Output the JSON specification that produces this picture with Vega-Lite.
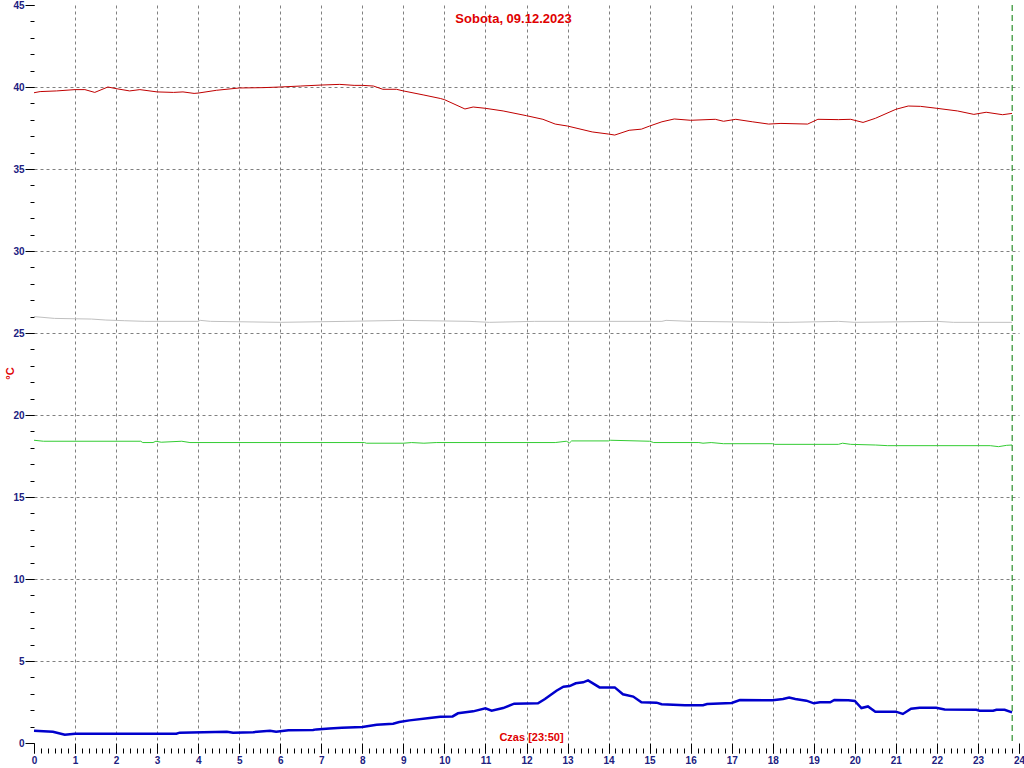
{
  "$schema": "https://vega.github.io/schema/vega-lite/v6.json",
  "width": 985,
  "height": 738,
  "autosize": {"type": "none"},
  "padding": {"left": 34, "top": 5, "right": 5, "bottom": 25},
  "background": "white",
  "config": {"view": {"stroke": null}, "font": "Liberation Sans"},
  "title": {"text": "Sobota, 09.12.2023", "color": "#e00000", "font": "Liberation Sans", "fontSize": 13, "fontWeight": "bold", "anchor": "middle", "frame": "group", "dx": -13, "dy": 18, "offset": -8, "baseline": "top"},
  "datasets": {
    "lines": [
      {"t":0,"v":39.65,"s":"A"},{"t":0.15,"v":39.72,"s":"A"},{"t":0.55,"v":39.76,"s":"A"},{"t":1,"v":39.84,"s":"A"},{"t":1.24,"v":39.84,"s":"A"},{"t":1.48,"v":39.67,"s":"A"},{"t":1.8,"v":40.0,"s":"A"},{"t":2,"v":39.9,"s":"A"},{"t":2.33,"v":39.76,"s":"A"},{"t":2.58,"v":39.84,"s":"A"},{"t":3,"v":39.7,"s":"A"},{"t":3.4,"v":39.67,"s":"A"},{"t":3.63,"v":39.7,"s":"A"},{"t":3.9,"v":39.61,"s":"A"},{"t":4,"v":39.63,"s":"A"},{"t":4.45,"v":39.8,"s":"A"},{"t":5,"v":39.94,"s":"A"},{"t":5.58,"v":39.96,"s":"A"},{"t":6,"v":40.0,"s":"A"},{"t":6.5,"v":40.06,"s":"A"},{"t":7,"v":40.12,"s":"A"},{"t":7.45,"v":40.16,"s":"A"},{"t":7.8,"v":40.1,"s":"A"},{"t":8,"v":40.1,"s":"A"},{"t":8.27,"v":40.06,"s":"A"},{"t":8.5,"v":39.86,"s":"A"},{"t":8.83,"v":39.86,"s":"A"},{"t":9,"v":39.76,"s":"A"},{"t":9.5,"v":39.51,"s":"A"},{"t":9.9,"v":39.3,"s":"A"},{"t":10,"v":39.23,"s":"A"},{"t":10.5,"v":38.66,"s":"A"},{"t":10.7,"v":38.78,"s":"A"},{"t":11,"v":38.7,"s":"A"},{"t":11.43,"v":38.54,"s":"A"},{"t":12,"v":38.25,"s":"A"},{"t":12.4,"v":38.03,"s":"A"},{"t":12.7,"v":37.74,"s":"A"},{"t":13,"v":37.62,"s":"A"},{"t":13.6,"v":37.26,"s":"A"},{"t":14,"v":37.13,"s":"A"},{"t":14.15,"v":37.07,"s":"A"},{"t":14.5,"v":37.36,"s":"A"},{"t":14.8,"v":37.43,"s":"A"},{"t":15,"v":37.62,"s":"A"},{"t":15.3,"v":37.88,"s":"A"},{"t":15.6,"v":38.05,"s":"A"},{"t":16,"v":37.97,"s":"A"},{"t":16.6,"v":38.03,"s":"A"},{"t":16.8,"v":37.91,"s":"A"},{"t":17.1,"v":38.03,"s":"A"},{"t":17.5,"v":37.88,"s":"A"},{"t":17.9,"v":37.74,"s":"A"},{"t":18.2,"v":37.78,"s":"A"},{"t":18.85,"v":37.74,"s":"A"},{"t":19.1,"v":38.03,"s":"A"},{"t":19.6,"v":38.01,"s":"A"},{"t":19.9,"v":38.03,"s":"A"},{"t":20.2,"v":37.84,"s":"A"},{"t":20.5,"v":38.09,"s":"A"},{"t":21,"v":38.64,"s":"A"},{"t":21.3,"v":38.84,"s":"A"},{"t":21.6,"v":38.82,"s":"A"},{"t":22,"v":38.7,"s":"A"},{"t":22.5,"v":38.54,"s":"A"},{"t":22.9,"v":38.33,"s":"A"},{"t":23.2,"v":38.46,"s":"A"},{"t":23.6,"v":38.31,"s":"A"},{"t":23.83,"v":38.39,"s":"A"},
      {"t":0,"v":26.0,"s":"B"},{"t":0.5,"v":25.89,"s":"B"},{"t":1.4,"v":25.85,"s":"B"},{"t":1.75,"v":25.79,"s":"B"},{"t":2.2,"v":25.75,"s":"B"},{"t":2.7,"v":25.71,"s":"B"},{"t":4,"v":25.71,"s":"B"},{"t":4.05,"v":25.77,"s":"B"},{"t":4.3,"v":25.71,"s":"B"},{"t":6,"v":25.65,"s":"B"},{"t":7.6,"v":25.71,"s":"B"},{"t":9,"v":25.77,"s":"B"},{"t":10.6,"v":25.71,"s":"B"},{"t":11.1,"v":25.65,"s":"B"},{"t":12.2,"v":25.71,"s":"B"},{"t":15.3,"v":25.71,"s":"B"},{"t":15.4,"v":25.77,"s":"B"},{"t":16,"v":25.71,"s":"B"},{"t":17.9,"v":25.65,"s":"B"},{"t":18.4,"v":25.65,"s":"B"},{"t":19.6,"v":25.71,"s":"B"},{"t":20,"v":25.65,"s":"B"},{"t":22,"v":25.71,"s":"B"},{"t":22.4,"v":25.65,"s":"B"},{"t":23.83,"v":25.65,"s":"B"},
      {"t":0,"v":18.46,"s":"C"},{"t":0.23,"v":18.4,"s":"C"},{"t":2.6,"v":18.4,"s":"C"},{"t":2.65,"v":18.32,"s":"C"},{"t":2.9,"v":18.32,"s":"C"},{"t":2.97,"v":18.4,"s":"C"},{"t":3.1,"v":18.34,"s":"C"},{"t":3.6,"v":18.4,"s":"C"},{"t":3.8,"v":18.32,"s":"C"},{"t":8.05,"v":18.32,"s":"C"},{"t":8.1,"v":18.28,"s":"C"},{"t":9,"v":18.28,"s":"C"},{"t":9.2,"v":18.32,"s":"C"},{"t":9.5,"v":18.28,"s":"C"},{"t":9.8,"v":18.32,"s":"C"},{"t":12.7,"v":18.32,"s":"C"},{"t":12.97,"v":18.4,"s":"C"},{"t":13.05,"v":18.3,"s":"C"},{"t":13.1,"v":18.42,"s":"C"},{"t":14,"v":18.42,"s":"C"},{"t":14.05,"v":18.46,"s":"C"},{"t":15,"v":18.4,"s":"C"},{"t":15.1,"v":18.32,"s":"C"},{"t":16.2,"v":18.32,"s":"C"},{"t":16.3,"v":18.28,"s":"C"},{"t":16.5,"v":18.32,"s":"C"},{"t":16.8,"v":18.25,"s":"C"},{"t":18,"v":18.25,"s":"C"},{"t":18.05,"v":18.21,"s":"C"},{"t":19.6,"v":18.21,"s":"C"},{"t":19.7,"v":18.28,"s":"C"},{"t":19.9,"v":18.21,"s":"C"},{"t":20.5,"v":18.17,"s":"C"},{"t":20.8,"v":18.13,"s":"C"},{"t":23.3,"v":18.13,"s":"C"},{"t":23.5,"v":18.07,"s":"C"},{"t":23.7,"v":18.15,"s":"C"},{"t":23.83,"v":18.17,"s":"C"},
      {"t":0,"v":0.75,"s":"D"},{"t":0.46,"v":0.69,"s":"D"},{"t":0.75,"v":0.51,"s":"D"},{"t":1,"v":0.57,"s":"D"},{"t":3.47,"v":0.57,"s":"D"},{"t":3.55,"v":0.63,"s":"D"},{"t":4.7,"v":0.69,"s":"D"},{"t":4.85,"v":0.63,"s":"D"},{"t":5.34,"v":0.66,"s":"D"},{"t":5.75,"v":0.75,"s":"D"},{"t":5.9,"v":0.69,"s":"D"},{"t":6.2,"v":0.77,"s":"D"},{"t":6.8,"v":0.79,"s":"D"},{"t":6.88,"v":0.83,"s":"D"},{"t":7.2,"v":0.89,"s":"D"},{"t":7.5,"v":0.93,"s":"D"},{"t":8,"v":0.97,"s":"D"},{"t":8.35,"v":1.11,"s":"D"},{"t":8.75,"v":1.18,"s":"D"},{"t":8.9,"v":1.28,"s":"D"},{"t":9.15,"v":1.38,"s":"D"},{"t":9.64,"v":1.52,"s":"D"},{"t":9.9,"v":1.6,"s":"D"},{"t":10.2,"v":1.62,"s":"D"},{"t":10.33,"v":1.81,"s":"D"},{"t":10.7,"v":1.93,"s":"D"},{"t":11,"v":2.11,"s":"D"},{"t":11.15,"v":1.97,"s":"D"},{"t":11.43,"v":2.13,"s":"D"},{"t":11.7,"v":2.4,"s":"D"},{"t":12.28,"v":2.42,"s":"D"},{"t":12.45,"v":2.68,"s":"D"},{"t":12.73,"v":3.19,"s":"D"},{"t":12.9,"v":3.43,"s":"D"},{"t":13.05,"v":3.47,"s":"D"},{"t":13.2,"v":3.64,"s":"D"},{"t":13.38,"v":3.7,"s":"D"},{"t":13.5,"v":3.82,"s":"D"},{"t":13.78,"v":3.39,"s":"D"},{"t":14.15,"v":3.39,"s":"D"},{"t":14.35,"v":2.97,"s":"D"},{"t":14.6,"v":2.83,"s":"D"},{"t":14.8,"v":2.48,"s":"D"},{"t":15.17,"v":2.46,"s":"D"},{"t":15.29,"v":2.36,"s":"D"},{"t":15.86,"v":2.3,"s":"D"},{"t":16.3,"v":2.3,"s":"D"},{"t":16.4,"v":2.38,"s":"D"},{"t":17,"v":2.44,"s":"D"},{"t":17.2,"v":2.62,"s":"D"},{"t":18,"v":2.6,"s":"D"},{"t":18.25,"v":2.68,"s":"D"},{"t":18.4,"v":2.77,"s":"D"},{"t":18.55,"v":2.68,"s":"D"},{"t":18.82,"v":2.58,"s":"D"},{"t":19,"v":2.42,"s":"D"},{"t":19.15,"v":2.48,"s":"D"},{"t":19.4,"v":2.48,"s":"D"},{"t":19.5,"v":2.62,"s":"D"},{"t":19.84,"v":2.6,"s":"D"},{"t":20,"v":2.56,"s":"D"},{"t":20.16,"v":2.13,"s":"D"},{"t":20.32,"v":2.23,"s":"D"},{"t":20.5,"v":1.91,"s":"D"},{"t":21,"v":1.91,"s":"D"},{"t":21.17,"v":1.77,"s":"D"},{"t":21.37,"v":2.09,"s":"D"},{"t":21.58,"v":2.15,"s":"D"},{"t":21.98,"v":2.15,"s":"D"},{"t":22.19,"v":2.05,"s":"D"},{"t":22.96,"v":2.03,"s":"D"},{"t":23.04,"v":1.97,"s":"D"},{"t":23.37,"v":1.97,"s":"D"},{"t":23.45,"v":2.03,"s":"D"},{"t":23.65,"v":2.03,"s":"D"},{"t":23.83,"v":1.87,"s":"D"}
    ]
  },
  "layer": [
    {
      "data": {"name": "lines"},
      "transform": [{"filter": "datum.s != 'D'"}],
      "mark": {"type": "line", "strokeWidth": 1},
      "encoding": {
        "x": {"field": "t", "type": "quantitative", "scale": {"domain": [0, 24], "nice": false, "zero": false},
          "axis": {"orient": "bottom", "values": [0,1,2,3,4,5,6,7,8,9,10,11,12,13,14,15,16,17,18,19,20,21,22,23,24], "domain": false, "tickSize": 10, "tickColor": "black", "labelPadding": 2, "labelFont": "Liberation Sans", "labelFontSize": 10, "labelFontWeight": "bold", "labelColor": "#20207f", "labelFlush": false, "labelOverlap": false,
            "grid": true, "gridColor": "#808080", "gridDash": [3, 3], "gridOpacity": {"condition": {"test": "datum.value == 0 || datum.value == 24", "value": 0}, "value": 1},
            "title": "Czas [23:50]", "titleColor": "#e00000", "titleFont": "Liberation Sans", "titleFontSize": 11, "titleFontWeight": "bold", "titleX": 497, "titleY": -3, "titleAlign": "center", "titleBaseline": "alphabetic"}},
        "y": {"field": "v", "type": "quantitative", "scale": {"domain": [0, 45], "nice": false},
          "axis": {"orient": "left", "values": [0,5,10,15,20,25,30,35,40,45], "domain": false, "tickSize": 9, "tickColor": "black", "labelPadding": 1, "labelFont": "Liberation Sans", "labelFontSize": 10, "labelFontWeight": "bold", "labelColor": "#20207f", "labelFlush": false, "labelOverlap": false,
            "grid": true, "gridColor": "#808080", "gridDash": [3, 3], "gridOpacity": {"condition": {"test": "datum.value == 0 || datum.value == 45", "value": 0}, "value": 1},
            "title": "°C", "titleColor": "#e00000", "titleFont": "Liberation Sans", "titleFontSize": 11, "titleFontWeight": "bold", "titleAngle": -90, "titleX": -24, "titleY": 368, "titleAlign": "center", "titleBaseline": "middle"}},
        "color": {"field": "s", "type": "nominal", "scale": {"domain": ["A", "B", "C", "D"], "range": ["#c00000", "#c0c0c0", "#33cc33", "#0000cc"]}, "legend": null}
      }
    },
    {
      "data": {"values": [{"t": 23.8333}]},
      "mark": {"type": "rule", "color": "#007a00", "strokeDash": [6, 4], "strokeWidth": 1},
      "encoding": {
        "x": {"field": "t", "type": "quantitative", "scale": {"domain": [0, 24], "nice": false, "zero": false},
          "axis": {"orient": "bottom", "values": [0,0.1667,0.3333,0.5,0.6667,0.8333,1,1.1667,1.3333,1.5,1.6667,1.8333,2,2.1667,2.3333,2.5,2.6667,2.8333,3,3.1667,3.3333,3.5,3.6667,3.8333,4,4.1667,4.3333,4.5,4.6667,4.8333,5,5.1667,5.3333,5.5,5.6667,5.8333,6,6.1667,6.3333,6.5,6.6667,6.8333,7,7.1667,7.3333,7.5,7.6667,7.8333,8,8.1667,8.3333,8.5,8.6667,8.8333,9,9.1667,9.3333,9.5,9.6667,9.8333,10,10.1667,10.3333,10.5,10.6667,10.8333,11,11.1667,11.3333,11.5,11.6667,11.8333,12,12.1667,12.3333,12.5,12.6667,12.8333,13,13.1667,13.3333,13.5,13.6667,13.8333,14,14.1667,14.3333,14.5,14.6667,14.8333,15,15.1667,15.3333,15.5,15.6667,15.8333,16,16.1667,16.3333,16.5,16.6667,16.8333,17,17.1667,17.3333,17.5,17.6667,17.8333,18,18.1667,18.3333,18.5,18.6667,18.8333,19,19.1667,19.3333,19.5,19.6667,19.8333,20,20.1667,20.3333,20.5,20.6667,20.8333,21,21.1667,21.3333,21.5,21.6667,21.8333,22,22.1667,22.3333,22.5,22.6667,22.8333,23,23.1667,23.3333,23.5,23.6667,23.8333,24],
            "labels": false, "grid": false, "domain": false, "tickSize": 5, "offset": 5, "tickColor": "black", "title": null}}
      }
    },
    {
      "data": {"name": "lines"},
      "transform": [{"filter": "datum.s == 'D'"}],
      "mark": {"type": "line", "color": "#0000cc", "strokeWidth": 2.5},
      "encoding": {
        "x": {"field": "t", "type": "quantitative", "scale": {"domain": [0, 24], "nice": false, "zero": false}, "axis": null},
        "y": {"field": "v", "type": "quantitative", "scale": {"domain": [0, 45], "nice": false},
          "axis": {"orient": "left", "values": [0,1,2,3,4,5,6,7,8,9,10,11,12,13,14,15,16,17,18,19,20,21,22,23,24,25,26,27,28,29,30,31,32,33,34,35,36,37,38,39,40,41,42,43,44,45],
            "labels": false, "grid": false, "domain": false, "tickSize": 4, "tickColor": "black", "title": null}}
      }
    }
  ],
  "resolve": {"axis": {"x": "independent", "y": "independent"}}
}
